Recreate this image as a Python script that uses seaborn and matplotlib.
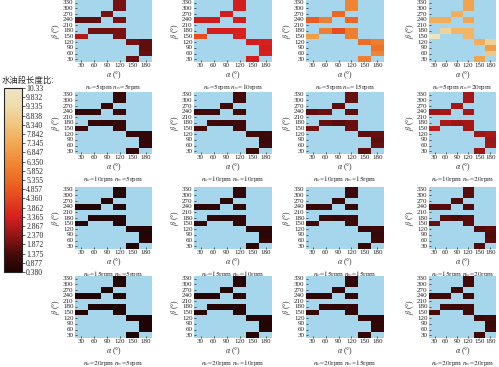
import matplotlib
matplotlib.use("Agg")
import matplotlib.pyplot as plt
import numpy as np
import pandas as pd
import seaborn as sns
from matplotlib.colors import LinearSegmentedColormap, Normalize
from matplotlib.cm import ScalarMappable

sns.set_style("ticks")
plt.rcParams["font.family"] = ["Liberation Serif", "Noto Sans CJK SC"]
plt.rcParams["mathtext.fontset"] = "stix"

ALPHA = [30, 60, 90, 120, 150, 180]
BETA = [330, 300, 270, 240, 210, 180, 150, 120, 90, 60, 30]

# cells that carry a value (everything else is empty)
CELL_ALPHA = [120, 120, 90, 30, 60, 120, 60, 90, 120, 30, 120, 150, 180, 180, 180, 150]
CELL_BETA = [330, 300, 270, 240, 240, 240, 180, 180, 180, 150, 150, 120, 120, 90, 60, 30]

N_OIL = [5, 10, 15, 20]
N_WATER = [5, 10, 15, 20]

# values per panel, row = n_o, column = n_w
V_5_5 = [2.0, 2.0, 2.0, 1.7, 1.7, 2.0, 1.9, 1.9, 2.0, 2.8, 2.0, 1.9, 1.7, 1.7, 1.8, 1.8]
V_5_10 = [3.3, 3.3, 3.3, 3.2, 3.2, 3.3, 3.3, 3.3, 3.4, 4.6, 3.4, 3.3, 3.4, 3.3, 3.4, 3.3]
V_5_15 = [6.2, 6.2, 5.3, 5.0, 6.0, 5.3, 6.0, 4.6, 6.0, 7.0, 6.0, 5.5, 6.0, 5.6, 6.2, 6.0]
V_5_20 = [7.2, 7.2, 7.5, 7.5, 7.5, 7.3, 9.0, 7.8, 7.8, 10.2, 7.8, 7.5, 8.8, 7.0, 8.5, 7.2]
V_10_5 = [1.0, 1.0, 0.95, 0.9, 0.9, 1.0, 0.95, 0.9, 1.0, 1.1, 1.0, 0.95, 0.9, 0.9, 0.95, 0.9]
V_10_10 = [1.2, 1.2, 1.2, 1.1, 1.1, 1.2, 1.2, 1.1, 1.2, 1.4, 1.2, 1.2, 1.1, 1.1, 1.2, 1.1]
V_10_15 = [1.8, 1.8, 1.7, 1.7, 1.8, 1.7, 1.8, 1.6, 1.8, 2.0, 1.8, 1.7, 1.8, 1.7, 1.8, 1.7]
V_10_20 = [2.6, 2.6, 2.6, 2.5, 2.6, 2.6, 2.7, 2.5, 2.6, 3.0, 2.6, 2.5, 2.7, 2.5, 2.6, 2.5]
V_15_5 = [0.6, 0.6, 0.6, 0.55, 0.55, 0.6, 0.6, 0.55, 0.6, 0.7, 0.6, 0.6, 0.55, 0.55, 0.6, 0.55]
V_15_10 = [0.85, 0.85, 0.8, 0.75, 0.8, 0.85, 0.85, 0.75, 0.85, 0.95, 0.85, 0.8, 0.8, 0.75, 0.85, 0.8]
V_15_15 = [1.1, 1.1, 1.0, 1.0, 1.1, 1.0, 1.1, 1.0, 1.1, 1.3, 1.1, 1.0, 1.1, 1.0, 1.1, 1.0]
V_15_20 = [1.6, 1.6, 1.5, 1.5, 1.6, 1.5, 1.6, 1.4, 1.6, 1.8, 1.6, 1.5, 1.6, 1.5, 1.6, 1.5]
V_20_5 = [0.5, 0.5, 0.5, 0.45, 0.45, 0.5, 0.5, 0.45, 0.5, 0.55, 0.5, 0.5, 0.45, 0.45, 0.5, 0.45]
V_20_10 = [0.65, 0.65, 0.6, 0.55, 0.6, 0.65, 0.65, 0.55, 0.65, 0.75, 0.65, 0.6, 0.6, 0.55, 0.65, 0.6]
V_20_15 = [0.9, 0.9, 0.85, 0.8, 0.85, 0.85, 0.9, 0.8, 0.9, 1.0, 0.9, 0.85, 0.9, 0.8, 0.9, 0.85]
V_20_20 = [1.2, 1.2, 1.15, 1.1, 1.2, 1.15, 1.2, 1.1, 1.2, 1.4, 1.2, 1.15, 1.2, 1.1, 1.2, 1.15]

PANELS = [
    [V_5_5, V_5_10, V_5_15, V_5_20],
    [V_10_5, V_10_10, V_10_15, V_10_20],
    [V_15_5, V_15_10, V_15_15, V_15_20],
    [V_20_5, V_20_10, V_20_15, V_20_20],
]

VMIN, VMAX = 0.380, 10.33
CBAR_TICKS = [0.380, 0.877, 1.375, 1.872, 2.370, 2.867, 3.365, 3.862, 4.360, 4.857,
              5.355, 5.852, 6.350, 6.847, 7.345, 7.842, 8.340, 8.838, 9.335, 9.832, 10.33]
CBAR_LABELS = ["0.380", "0.877", "1.375", "1.872", "2.370", "2.867", "3.365", "3.862",
               "4.360", "4.857", "5.355", "5.852", "6.350", "6.847", "7.345", "7.842",
               "8.340", "8.838", "9.335", "9.832", "10.33"]

cmap = LinearSegmentedColormap.from_list(
    "oilwater",
    ["#1c0404", "#4a0a0a", "#951515", "#d81f1f", "#e4461f", "#ec6a24",
     "#f08a36", "#f1a852", "#f1c47c", "#eedba8", "#ece6c6"],
)
BG = "#a6d6ec"

W, H = 499, 367
fig = plt.figure(figsize=(W / 100, H / 100), dpi=100)


def px_axes(left, top, width, height):
    return fig.add_axes([left / W, 1 - (top + height) / H, width / W, height / H])


col_left = [75, 194, 306, 429]
col_width = [77, 78, 78, 67]
row_top = [0, 92, 187, 276]
row_height = 62

for i, n_o in enumerate(N_OIL):
    for j, n_w in enumerate(N_WATER):
        grid = pd.DataFrame(np.nan, index=BETA, columns=ALPHA)
        for a, b, v in zip(CELL_ALPHA, CELL_BETA, PANELS[i][j]):
            grid.loc[b, a] = v
        ax = px_axes(col_left[j], row_top[i], col_width[j], row_height)
        ax.set_facecolor(BG)
        sns.heatmap(grid, ax=ax, cmap=cmap, vmin=VMIN, vmax=VMAX, cbar=False,
                    xticklabels=ALPHA, yticklabels=BETA, linewidths=0)
        ax.tick_params(axis="both", length=1.5, width=0.5, pad=1, labelsize=5,
                       direction="in", colors="#222222")
        ax.tick_params(axis="y", labelrotation=0)
        ax.tick_params(axis="x", labelrotation=0)
        ax.set_xlabel(r"$\alpha$ (°)", fontsize=5.5, labelpad=0.5)
        ax.set_ylabel(r"$\beta$ (°)", fontsize=5.5, labelpad=0.5)
        ax.text(0.5, -25 / row_height, rf"$n_o$=${n_o}$rpm $n_w$=${n_w}$rpm",
                transform=ax.transAxes, ha="center", va="center", fontsize=5.2)

# colour bar
cax = px_axes(4, 88, 18, 184)
sm = ScalarMappable(norm=Normalize(VMIN, VMAX), cmap=cmap)
cb = fig.colorbar(sm, cax=cax, ticks=CBAR_TICKS)
cb.ax.set_yticklabels(CBAR_LABELS)
cb.ax.tick_params(labelsize=5.5, length=2, width=0.5, pad=1)
cb.outline.set_linewidth(0.8)
fig.text(2 / W, 1 - 80 / H, "水油段长度比:", fontsize=6, va="center", ha="left",
         family=["Noto Sans CJK SC", "DejaVu Sans"])

fig.savefig("out.png", dpi=100)
